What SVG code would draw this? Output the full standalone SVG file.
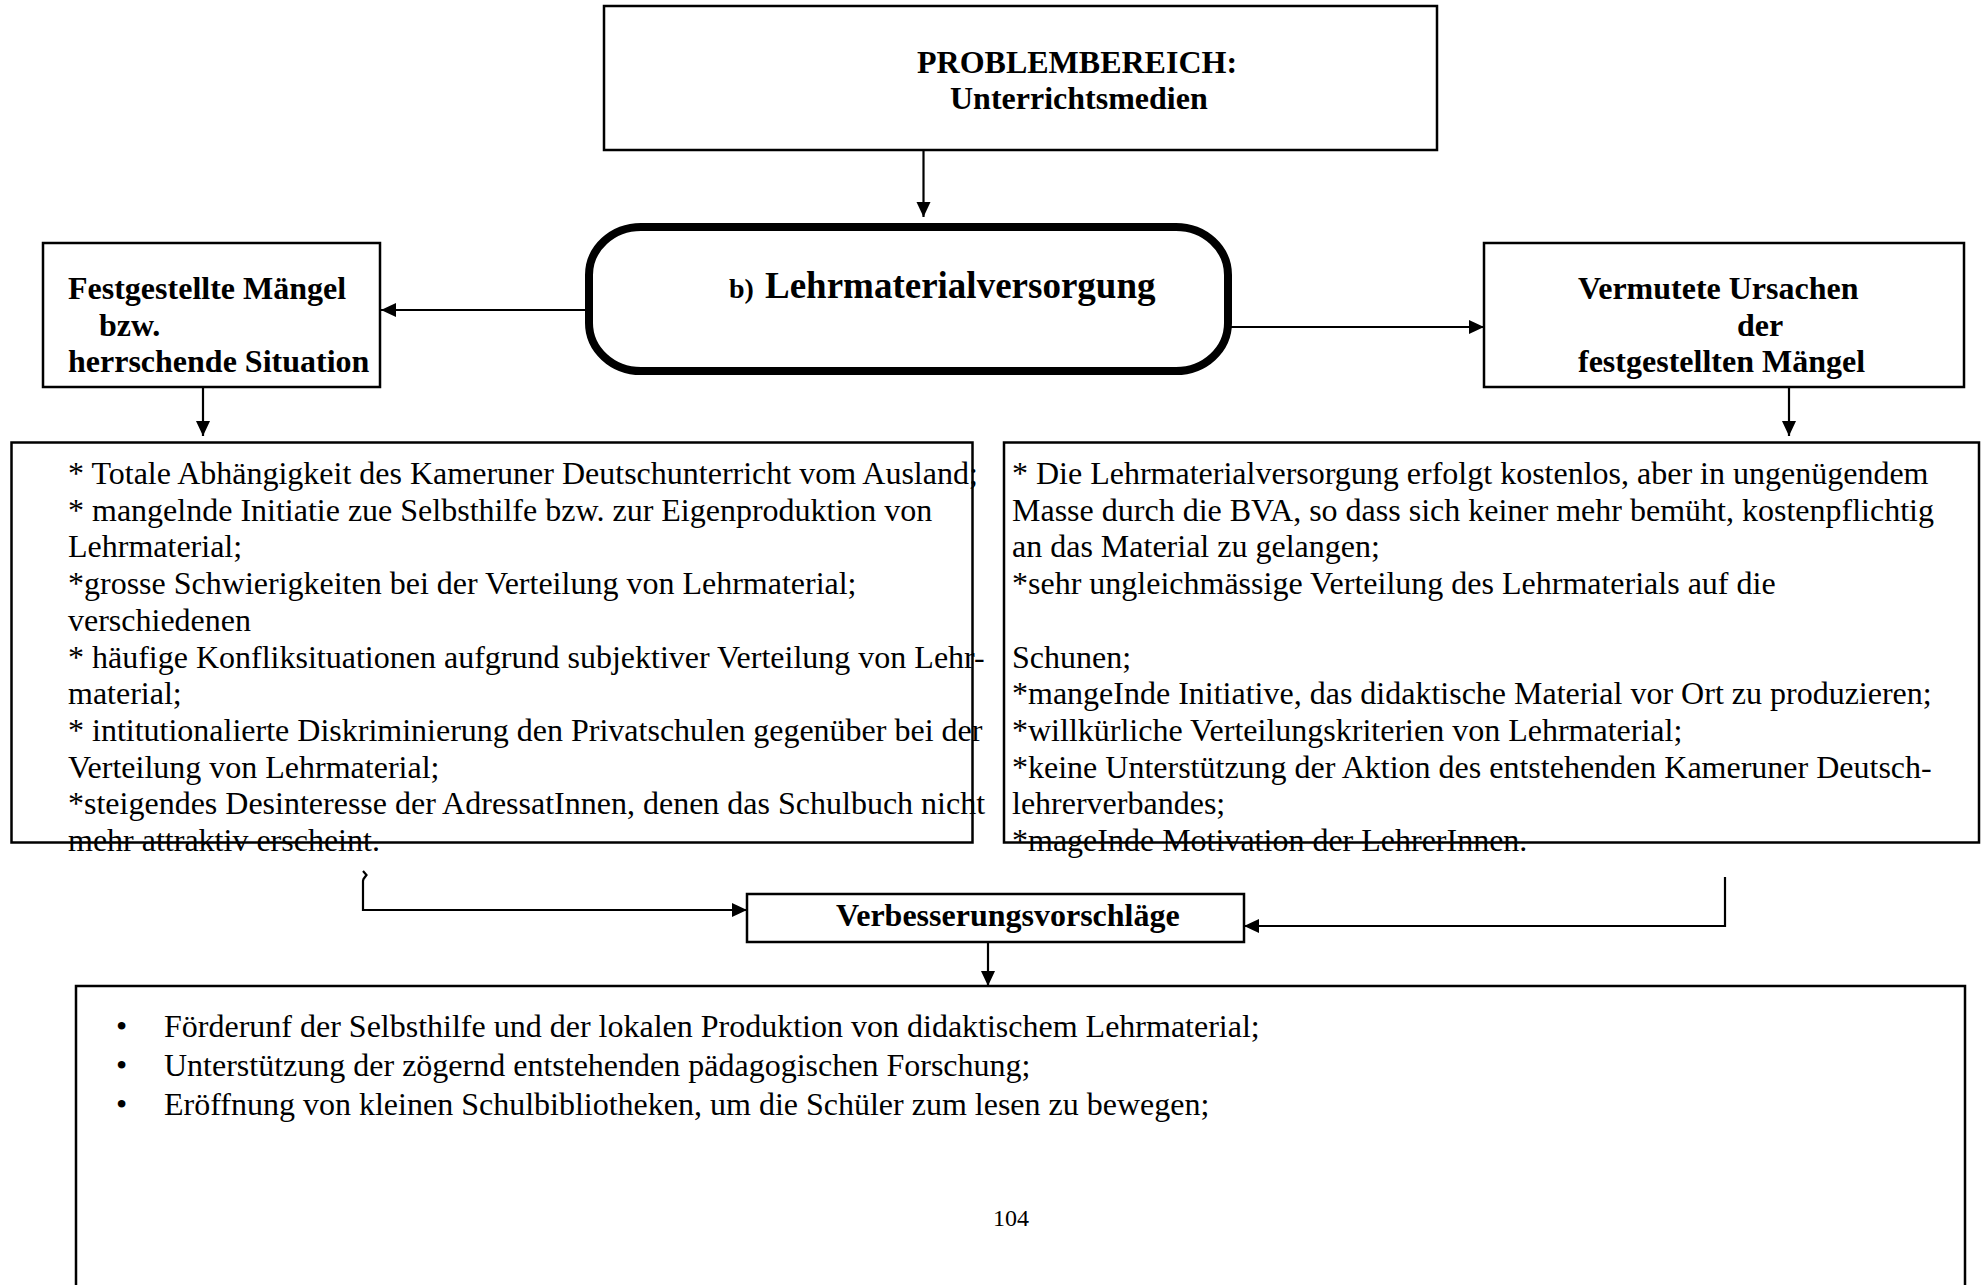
<svg xmlns="http://www.w3.org/2000/svg" width="1983" height="1285" viewBox="0 0 1983 1285">
  <defs>
    <marker id="arrow" markerUnits="userSpaceOnUse" markerWidth="16" markerHeight="16" viewBox="0 0 16 16" refX="15" refY="8" orient="auto">
      <path d="M0,1 L15,8 L0,15 Z" fill="#000"/>
    </marker>
    <style>
      .box { fill: #fff; stroke: #000; stroke-width: 2.5; }
      .hub { fill: #fff; stroke: #000; stroke-width: 8; }
      .conn { fill: none; stroke: #000; stroke-width: 2.2; }
      .lbl { font-family: "Liberation Serif", "Times New Roman", serif; font-weight: bold; font-size: 32px; fill: #000; }
      .body { font-family: "Liberation Serif", "Times New Roman", serif; font-size: 32px; fill: #000; }
    </style>
  </defs>
  <rect width="1983" height="1285" fill="#fff"/>

  <!-- problem area -->
  <g id="problembereich">
    <rect class="box" x="604" y="6" width="833" height="144"/>
    <text class="lbl" x="917" y="73">PROBLEMBEREICH:</text>
    <text class="lbl" x="950" y="109">Unterrichtsmedien</text>
  </g>

  <!-- central topic -->
  <g id="lehrmaterialversorgung">
    <rect class="hub" x="589" y="227" width="639" height="144" rx="52" ry="48"/>
    <text class="lbl" x="729" y="298" style="font-size:28px">b)</text>
    <text class="lbl" x="765" y="298" style="font-size:37px">Lehrmaterialversorgung</text>
  </g>

  <g id="maengel-titel">
    <rect class="box" x="43" y="243" width="337" height="144"/>
    <text class="lbl" x="68" y="299">Festgestellte Mängel</text>
    <text class="lbl" x="99" y="336">bzw.</text>
    <text class="lbl" x="68" y="372">herrschende Situation</text>
  </g>

  <g id="ursachen-titel">
    <rect class="box" x="1484" y="243" width="480" height="144"/>
    <text class="lbl" x="1578" y="299">Vermutete Ursachen</text>
    <text class="lbl" x="1737" y="336">der</text>
    <text class="lbl" x="1578" y="372">festgestellten Mängel</text>
  </g>

  <!-- list of observed deficits -->
  <g id="maengel-liste">
    <rect class="box" x="11.5" y="442.5" width="961" height="400" fill="none" style="fill:none"/>
    <text class="body">
      <tspan x="68" y="484">* Totale Abhängigkeit des Kameruner Deutschunterricht vom Ausland;</tspan>
      <tspan x="68" y="520.7">* mangelnde Initiatie zue Selbsthilfe bzw. zur Eigenproduktion von</tspan>
      <tspan x="68" y="557.4">Lehrmaterial;</tspan>
      <tspan x="68" y="594.1">*grosse Schwierigkeiten bei der Verteilung von Lehrmaterial;</tspan>
      <tspan x="68" y="630.8">verschiedenen</tspan>
      <tspan x="68" y="667.5">* häufige Konfliksituationen aufgrund subjektiver Verteilung von Lehr-</tspan>
      <tspan x="68" y="704.2">material;</tspan>
      <tspan x="68" y="740.9">* intitutionalierte Diskriminierung den Privatschulen gegenüber bei der</tspan>
      <tspan x="68" y="777.6">Verteilung von Lehrmaterial;</tspan>
      <tspan x="68" y="814.3">*steigendes Desinteresse der AdressatInnen, denen das Schulbuch nicht</tspan>
      <tspan x="68" y="851">mehr attraktiv erscheint.</tspan>
    </text>
  </g>

  <!-- list of suspected causes -->
  <g id="ursachen-liste">
    <rect class="box" x="1004" y="442.5" width="975" height="400" style="fill:none"/>
    <text class="body">
      <tspan x="1012" y="484">* Die Lehrmaterialversorgung erfolgt kostenlos, aber in ungenügendem</tspan>
      <tspan x="1012" y="520.7">Masse durch die BVA, so dass sich keiner mehr bemüht, kostenpflichtig</tspan>
      <tspan x="1012" y="557.4">an das Material zu gelangen;</tspan>
      <tspan x="1012" y="594.1">*sehr ungleichmässige Verteilung des Lehrmaterials auf die</tspan>
      <tspan x="1012" y="667.5">Schunen;</tspan>
      <tspan x="1012" y="704.2">*mangeInde Initiative, das didaktische Material vor Ort zu produzieren;</tspan>
      <tspan x="1012" y="740.9">*willkürliche Verteilungskriterien von Lehrmaterial;</tspan>
      <tspan x="1012" y="777.6">*keine Unterstützung der Aktion des entstehenden Kameruner Deutsch-</tspan>
      <tspan x="1012" y="814.3">lehrerverbandes;</tspan>
      <tspan x="1012" y="851">*mageInde Motivation der LehrerInnen.</tspan>
    </text>
  </g>

  <g id="verbesserungsvorschlaege">
    <rect class="box" x="747" y="894" width="497" height="48"/>
    <text class="lbl" x="836" y="926">Verbesserungsvorschläge</text>
  </g>

  <!-- proposals; the frame runs past the lower edge -->
  <g id="vorschlaege-liste">
    <rect class="box" x="76" y="986" width="1889" height="400" style="fill:none"/>
    <text class="body">
      <tspan x="116" y="1037">•</tspan><tspan x="164" y="1037">Förderunf der Selbsthilfe und der lokalen Produktion von didaktischem Lehrmaterial;</tspan>
      <tspan x="116" y="1076">•</tspan><tspan x="164" y="1076">Unterstützung der zögernd entstehenden pädagogischen Forschung;</tspan>
      <tspan x="116" y="1115">•</tspan><tspan x="164" y="1115">Eröffnung von kleinen Schulbibliotheken, um die Schüler zum lesen zu bewegen;</tspan>
    </text>
    <text class="body" x="993" y="1226" style="font-size:24px">104</text>
  </g>

  <!-- connectors -->
  <g id="connectors">
    <line class="conn" x1="923.5" y1="151" x2="923.5" y2="217" marker-end="url(#arrow)"/>
    <line class="conn" x1="586" y1="310" x2="381" y2="310" marker-end="url(#arrow)"/>
    <line class="conn" x1="1231" y1="327" x2="1484" y2="327" marker-end="url(#arrow)"/>
    <line class="conn" x1="203" y1="387" x2="203" y2="436" marker-end="url(#arrow)"/>
    <line class="conn" x1="1789" y1="387" x2="1789" y2="436" marker-end="url(#arrow)"/>
    <path class="conn" d="M363,871 L366.5,875 L363.5,879 L363,881 L363,910 L747,910" marker-end="url(#arrow)"/>
    <path class="conn" d="M1725,877 L1725,926 L1244,926" marker-end="url(#arrow)"/>
    <line class="conn" x1="988" y1="942" x2="988" y2="986" marker-end="url(#arrow)"/>
  </g>
</svg>
